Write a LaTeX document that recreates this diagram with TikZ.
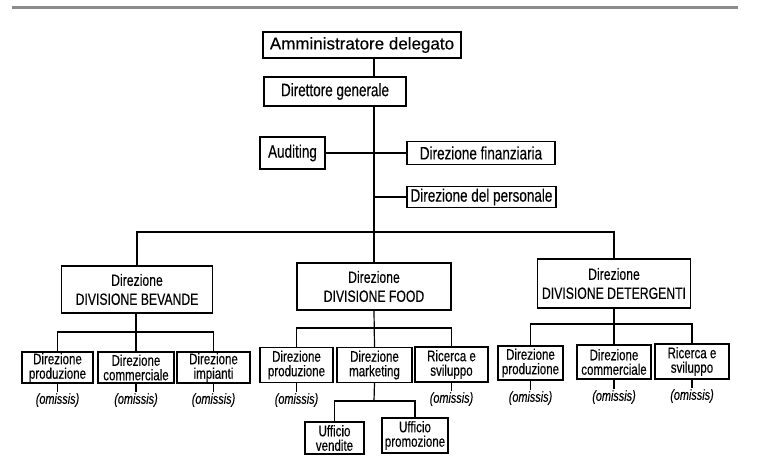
\documentclass[tikz,border=0pt]{standalone}
\usepackage{fontspec}
\setmainfont{Liberation Sans}[FakeStretch=0.75, FakeBold=0.3]
\newfontfamily\widefont{Liberation Sans}[FakeBold=0.3]
\usepackage{tikz}
\usetikzlibrary{positioning,calc}

\tikzset{
  box/.style={draw, line width=1.2pt, inner sep=0pt, align=center},
  topbox/.style={box, font=\widefont\fontsize{17}{19}\selectfont},
  staffbox/.style={box, font=\fontsize{18}{19}\selectfont},
  divbox/.style={box, font=\fontsize{16.3}{19}\selectfont, minimum height=47pt},
  unitbox/.style={box, font=\fontsize{15.4}{14.5}\selectfont},
  omissis/.style={inner sep=1pt, font=\itshape\fontsize{14.5}{15}\selectfont},
  conn/.style={line width=1.2pt}
}

\begin{document}
\begin{tikzpicture}[x=1pt,y=-1pt]
\useasboundingbox (0,0) rectangle (780,467);
% scanned rule at the top
\draw [line width=3pt, black!45] (12,7) -- (738,7);

% top management
\node [topbox, minimum width=198pt, minimum height=26pt] (ad) at (362,45) {Amministratore delegato};
\node [staffbox, minimum width=142pt, minimum height=29pt] (dg) at (335,91.5) {Direttore generale};
\node [staffbox, minimum width=65pt, minimum height=32pt] (aud) at (292.5,153) {Auditing};
\node [staffbox, minimum width=148pt, minimum height=23pt] (fin) at (481,153) {Direzione finanziaria};
\node [staffbox, minimum width=149pt, minimum height=21pt] (pers) at (481.5,197) {Direzione del personale};

% divisions
\node [divbox, minimum width=151pt] (bev) at (137,289.5) {Direzione\\DIVISIONE BEVANDE};
\node [divbox, minimum width=154pt] (food) at (374,286.5) {Direzione\\DIVISIONE FOOD};
\node [divbox, minimum width=153pt, minimum height=49pt] (det) at (614,283.5) {Direzione\\DIVISIONE DETERGENTI};

% units
\foreach\name/\x/\y/\h/\w/\txt in {
    bevp/57.5/367.5/31/71/{Direzione\\produzione},
    bevc/136/367.5/31/76/{Direzione\\commerciale},
    bevi/213.5/367.5/31/73/{Direzione\\impianti},
    foodp/296.5/365/35/73/{Direzione\\produzione},
    foodm/374.5/365/35/75/{Direzione\\marketing},
    foodr/451.5/364.5/35/73/{Ricerca e\\sviluppo},
    detp/530.5/363/34/65/{Direzione\\produzione},
    detc/614/362/34/74/{Direzione\\commerciale},
    detr/692/361.5/35/74/{Ricerca e\\sviluppo}}
  \node [unitbox, minimum width=\w pt, minimum height=\h pt] (\name) at (\x,\y) {\txt};

\node [unitbox, minimum width=59pt, minimum height=32pt] (uv) at (334.5,438) {Ufficio\\vendite};
\node [unitbox, minimum width=66pt, minimum height=35pt] (up) at (415,435.5) {Ufficio\\promozione};

% omissis
\foreach\name/\x/\y in {bevp/57.5/400,bevc/136/400,bevi/213.5/400,foodp/296.5/400,foodr/451.5/399,detp/530.5/398,detc/614/397,detr/692/396}
{
  \node [omissis] (\name om) at (\x,\y) {(omissis)};
  \draw [conn] (\name) -- (\name om);
}

% connectors
\coordinate (bus) at (374,232);
\coordinate (bevbus) at (136,332);
\coordinate (foodbus) at (374,328);
\coordinate (detbus) at (614,324);
\coordinate (mktbus) at (374,401);

\draw [conn] (ad.south -| food) -- (dg.north -| food);
\draw [conn] (dg.south -| food) -- (food.north);
\draw [conn] (aud.east) -- (fin.west);
\draw [conn] (pers.west -| food) -- (pers.west);
\draw [conn] (bev.north) |- (bus) -| (det.north);

\draw [conn] (bevp.north) |- (bevbus) -| (bevi.north);
\draw [conn] (bev.south -| bevc) -- (bevc.north);
\draw [conn] (foodp.north) |- (foodbus) -| (foodr.north);
\draw [conn] (food.south) -- (foodm.north);
\draw [conn] (detp.north) |- (detbus) -| (detr.north);
\draw [conn] (det.south) -- (detc.north);

\draw [conn] (foodm.south) -- (mktbus);
\draw [conn] (uv.north) |- (mktbus) -| (up.north);
\end{tikzpicture}
\end{document}
